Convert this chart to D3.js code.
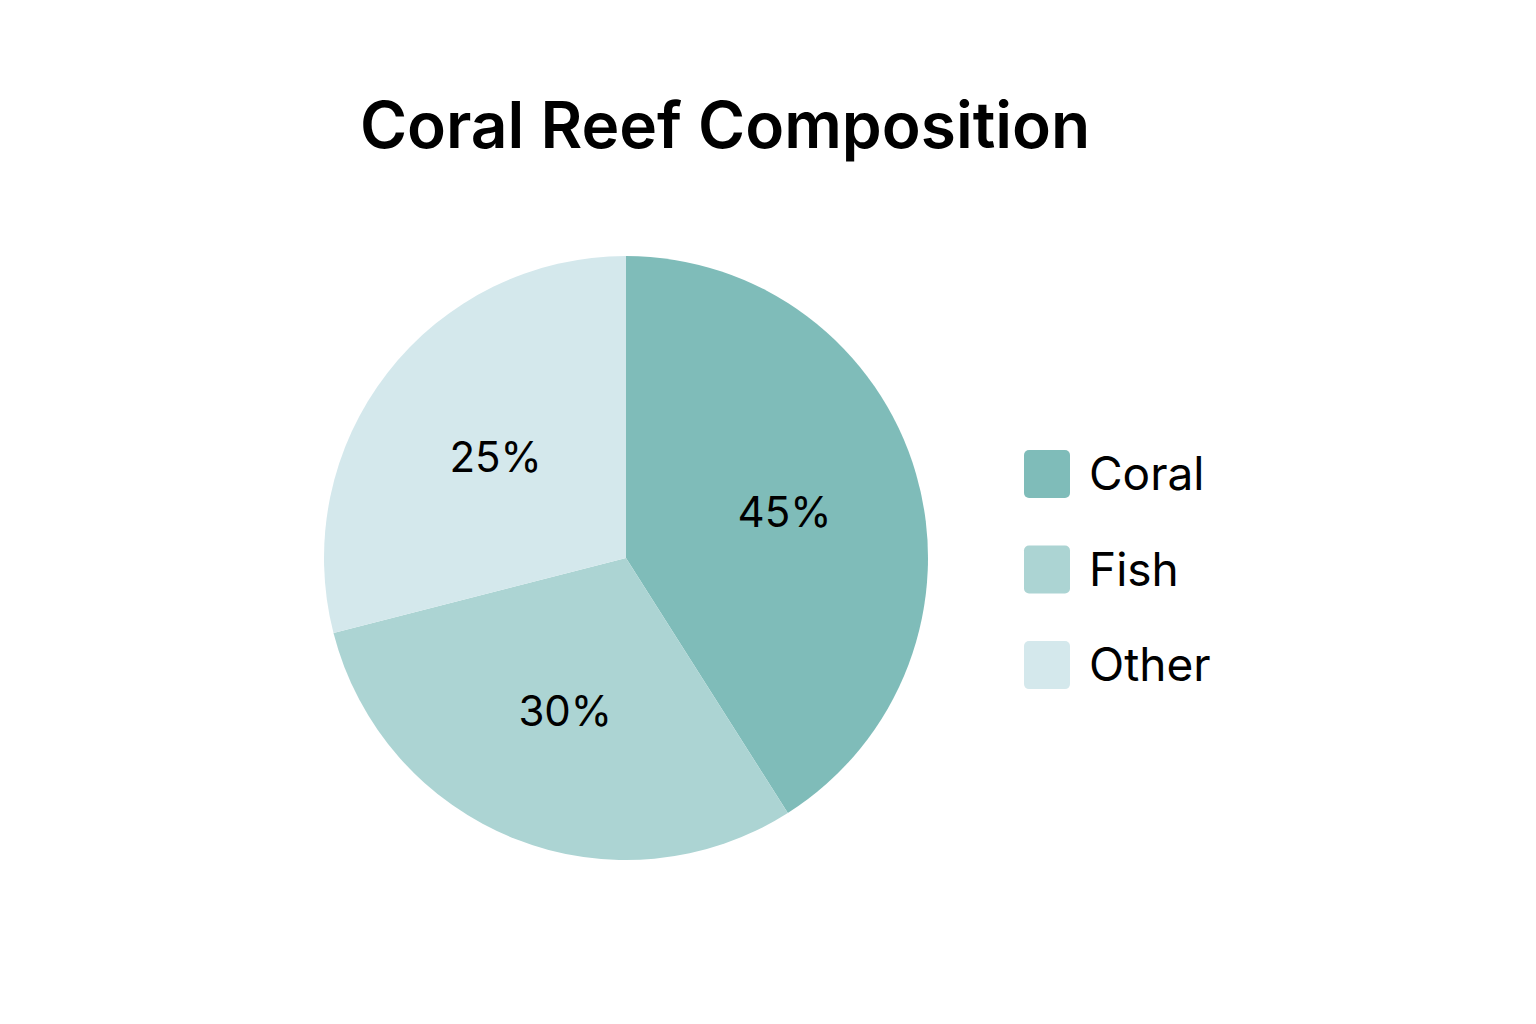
<!DOCTYPE html><html><head><meta charset="utf-8"><script src="https://cdn.jsdelivr.net/npm/d3@7"></script>
<style>body{margin:0;background:#fff}</style></head><body><svg id="c" width="1536" height="1024"></svg>
<script>
const categories=["Coral","Fish","Other"];
const labels=["45%","30%","25%"];
const shares=[41,30,29]; // angular shares as drawn in the picture
const colors=["#7fbcb9","#acd4d3","#d4e8ec"];
const svg=d3.select("#c");
svg.append("text").attr("x",725).attr("y",148).attr("text-anchor","middle")
 .attr("font-family","Inter, sans-serif").attr("font-weight",600).attr("font-size",64).text("Coral Reef Composition");
const g=svg.append("g").attr("transform","translate(626,558)");
const pie=d3.pie().sort(null)(shares);
const arc=d3.arc().innerRadius(0).outerRadius(302);
const la=d3.arc().innerRadius(165).outerRadius(165);
g.selectAll("path").data(pie).join("path").attr("d",arc).attr("fill",(d,i)=>colors[i]);
g.selectAll("text").data(pie).join("text").attr("transform",d=>`translate(${la.centroid(d)})`)
 .attr("text-anchor","middle").attr("dy","0.35em").attr("font-family","Inter, sans-serif").attr("font-size",42)
 .text((d,i)=>labels[i]);
const y=d3.scaleBand().domain(categories).range([450,708]).paddingInner(0.3);
const lg=svg.append("g");
lg.selectAll("rect").data(categories).join("rect").attr("x",1024).attr("y",d=>y(d)).attr("width",46).attr("height",48).attr("rx",5).attr("fill",(d,i)=>colors[i]);
lg.selectAll("text").data(categories).join("text").attr("x",1089).attr("y",d=>y(d)+24).attr("dy","0.35em")
 .attr("font-family","Inter, sans-serif").attr("font-size",46).text(d=>d);
</script></body></html>
